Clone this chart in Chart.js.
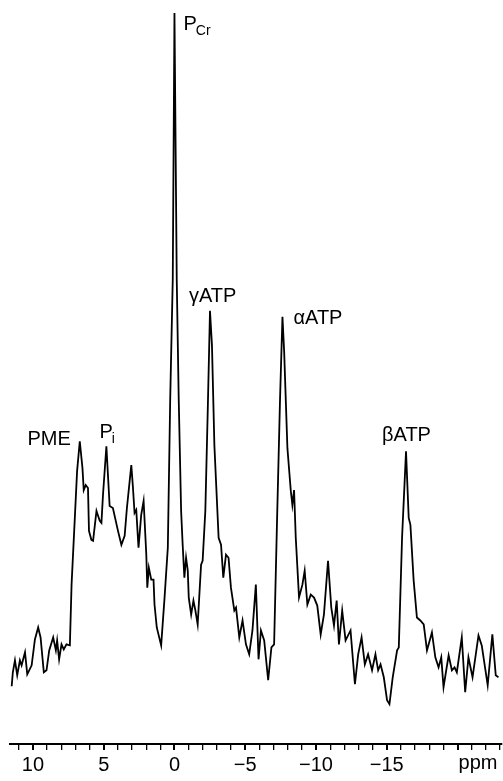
<!DOCTYPE html>
<html>
<head>
<meta charset="utf-8">
<script src="https://cdn.jsdelivr.net/npm/chart.js@4.4.1/dist/chart.umd.min.js"></script>
<style>
  body { margin: 0; background: #fff; }
  #wrap { width: 503px; height: 781px; }
</style>
</head>
<body>
<div id="wrap"><canvas id="spectrum"></canvas></div>
<script>
// chemical shift (ppm) and signal intensity (a.u.)
const ppm = [
  11.50, 11.42, 11.27, 11.11, 10.92, 10.80, 10.56, 10.40, 10.09, 9.86, 9.63, 9.46, 9.23, 9.04,
  8.85, 8.57, 8.38, 8.29, 8.15, 7.98, 7.82, 7.63, 7.39, 7.27, 7.04, 6.88, 6.69, 6.50, 6.41,
  6.27, 6.11, 6.04, 5.87, 5.75, 5.51, 5.28, 5.16, 5.05, 4.81, 4.58, 4.35, 3.99, 3.75, 3.52,
  3.36, 3.05, 2.94, 2.82, 2.70, 2.54, 2.35, 2.18, 1.99, 1.92, 1.81, 1.64, 1.48, 1.41, 1.25,
  0.94, 0.70, 0.47, 0.30, 0.12, 0.00, -0.16, -0.30, -0.47, -0.58, -0.70, -0.82, -0.94, -1.01,
  -1.18, -1.34, -1.48, -1.64, -1.88, -1.99, -2.18, -2.35, -2.51, -2.65, -2.82, -3.12, -3.29,
  -3.45, -3.64, -3.82, -3.99, -4.23, -4.35, -4.58, -4.81, -5.05, -5.28, -5.51, -5.75, -5.94,
  -6.11, -6.34, -6.62, -6.85, -7.04, -7.23, -7.46, -7.63, -7.75, -7.98, -8.22, -8.33, -8.45,
  -8.57, -8.80, -9.04, -9.20, -9.39, -9.63, -9.86, -10.09, -10.33, -10.56, -10.85, -11.08,
  -11.27, -11.46, -11.62, -11.85, -12.09, -12.44, -12.75, -12.98, -13.22, -13.45, -13.68,
  -13.96, -14.20, -14.39, -14.56, -14.79, -15.02, -15.19, -15.42, -15.73, -15.85, -16.08,
  -16.36, -16.55, -16.67, -16.90, -17.13, -17.37, -17.61, -17.84, -18.19, -18.43, -18.66,
  -18.85, -19.01, -19.37, -19.60, -19.79, -19.95, -20.30, -20.54, -20.77, -21.06, -21.48,
  -21.71, -22.13, -22.46, -22.70, -22.89
];
const intensity = [
  41, 55, 67, 52, 67, 62, 75, 53, 62, 88, 100, 90, 55, 57,
  77, 90, 77, 87, 68, 83, 78, 83, 82, 143, 210, 257, 287, 260, 238,
  243, 240, 197, 188, 187, 217, 207, 205, 233, 282, 222, 220, 197, 183, 192,
  220, 263, 242, 215, 218, 180, 213, 227, 173, 140, 160, 148, 148, 123, 100,
  82, 130, 180, 330, 450, 717, 450, 330, 217, 183, 150, 170, 157, 130,
  113, 127, 117, 103, 163, 167, 217, 317, 418, 383, 283, 190, 183,
  150, 173, 170, 140, 117, 120, 90, 107, 83, 73, 97, 143, 68,
  97, 87, 47, 80, 83, 197, 330, 412, 377, 280, 237, 223, 238,
  190, 130, 143, 157, 123, 133, 130, 122, 93, 113, 167, 120,
  102, 127, 83, 117, 87, 97, 43, 73, 90, 63, 73,
  57, 73, 57, 63, 50, 27, 23, 50, 77, 80, 190,
  277, 210, 203, 147, 110, 107, 103, 77, 95, 70, 60,
  70, 40, 72, 57, 60, 55, 90, 35, 70, 50, 92,
  82, 42, 93, 52, 50
];

// peak labels
const peakNames = ['PME', 'P|i', 'P|Cr', 'γATP', 'αATP', 'βATP'];
const peakPpm = [6.69, 4.81, 0.00, -2.51, -7.63, -16.36];
const peakHeight = [287, 282, 717, 418, 412, 277];

const majorStep = 5;
const axisLabel = 'ppm';

const FONT = '"Liberation Sans", Arial, Helvetica, sans-serif';

// label offset from the peak top, in px: [dx, dy, align]
const labelPlace = [[-9, 4, 'right'], [-7, -8, 'left'], [9, 17, 'left'],
                    [-21, -9, 'left'], [11, 7, 'left'], [-24, -10, 'left']];

const peakLabels = {
  id: 'peakLabels',
  afterDraw(chart) {
    const ctx = chart.ctx;
    const xs = chart.scales.x, ys = chart.scales.y;
    ctx.save();
    ctx.fillStyle = '#000';
    ctx.textBaseline = 'alphabetic';
    peakNames.forEach((name, i) => {
      const px = xs.getPixelForValue(peakPpm[i]) + labelPlace[i][0];
      const py = ys.getPixelForValue(peakHeight[i]) + labelPlace[i][1];
      const parts = name.split('|');
      ctx.font = '20px ' + FONT;
      const w = ctx.measureText(parts[0]).width;
      ctx.textAlign = labelPlace[i][2];
      ctx.fillText(parts[0], px, py);
      if (parts[1]) {
        ctx.textAlign = 'left';
        ctx.font = '14px ' + FONT;
        ctx.fillText(parts[1], px + w - 1, py + 5);
      }
    });
    // unit label sits at the -20 tick, same line as the numbers
    ctx.font = '20px ' + FONT;
    ctx.textAlign = 'left';
    ctx.textBaseline = 'top';
    ctx.fillText(axisLabel, xs.getPixelForValue(-20) + 1, xs.top + 9);
    ctx.restore();
  }
};

const data = ppm.map((p, i) => ({ x: p, y: intensity[i] }));

new Chart(document.getElementById('spectrum'), {
  type: 'line',
  data: {
    datasets: [{
      data: data,
      borderColor: '#000',
      borderWidth: 1.8,
      pointRadius: 0,
      tension: 0,
      fill: false
    }]
  },
  options: {
    responsive: true,
    maintainAspectRatio: false,
    animation: false,
    layout: { padding: { left: 10, right: 0, top: 0, bottom: 1 } },
    plugins: { legend: { display: false }, tooltip: { enabled: false } },
    scales: {
      x: {
        type: 'linear',
        reverse: true,
        min: -23.1,
        max: 11.62,
        border: { display: true, color: '#000', width: 2 },
        grid: {
          drawOnChartArea: false,
          drawTicks: true,
          tickLength: 6,
          color: '#000',
          lineWidth: c => (c.tick && c.tick.value % majorStep === 0) ? 2 : 1.3
        },
        ticks: {
          stepSize: 1,
          includeBounds: false,
          autoSkip: false,
          maxRotation: 0,
          color: '#000',
          padding: 3,
          font: { family: FONT, size: 20 },
          callback: v => {
            if (v % majorStep !== 0 || v === -20) return '';
            return v < 0 ? '\u2212' + Math.abs(v) : String(v);
          }
        }
      },
      y: { display: false, min: -17, max: 730 }
    }
  },
  plugins: [peakLabels]
});
</script>
</body>
</html>
